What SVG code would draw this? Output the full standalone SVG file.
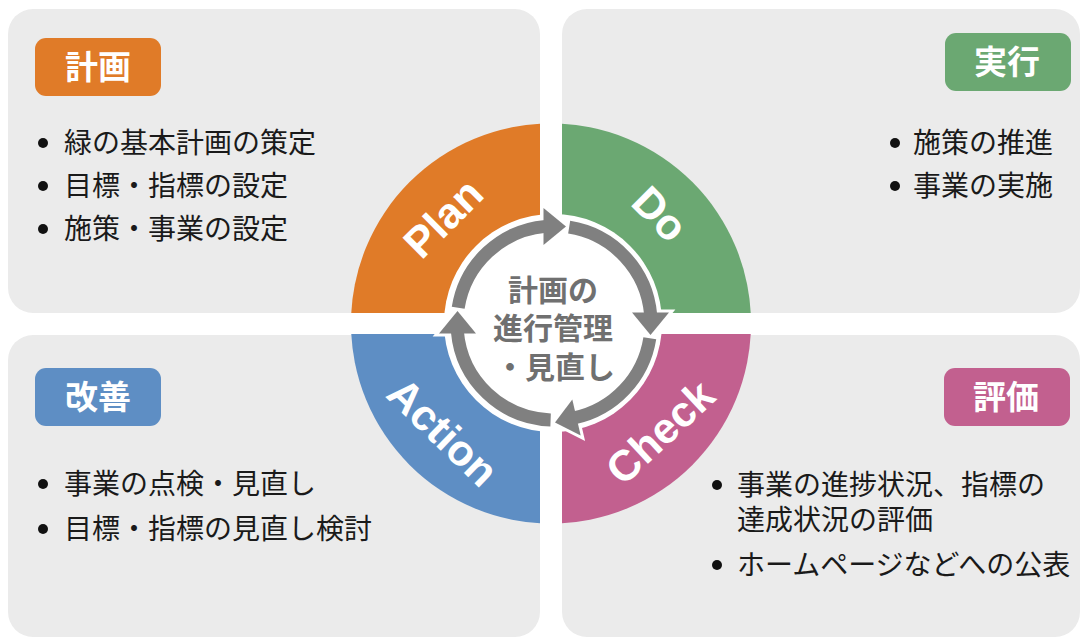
<svg xmlns="http://www.w3.org/2000/svg" width="1083" height="639" viewBox="0 0 1083 639">
<style>
.panel{fill:#EBEBEB}
.item{font-family:"Noto Sans CJK JP","Noto Sans",sans-serif;font-size:28px;fill:#1a1a1a}
.tag{font-family:"Noto Sans CJK JP","Noto Sans",sans-serif;font-size:33px;font-weight:700;fill:#ffffff;text-anchor:middle}
.pdca{font-family:"Liberation Sans",Arial,sans-serif;font-size:43px;font-weight:700;fill:#ffffff;text-anchor:middle;dominant-baseline:central}
.center{font-family:"Noto Sans CJK JP","Noto Sans",sans-serif;font-size:30px;font-weight:700;fill:#707070;text-anchor:middle}
.dot{fill:#111111}
.ring{fill:none;stroke:#808080;stroke-width:13}
.head{fill:#808080;stroke:#ffffff;stroke-width:6;paint-order:stroke;stroke-linejoin:miter}
</style>
<defs>
<clipPath id="cTL"><rect x="0" y="0" width="540" height="313"/></clipPath>
<clipPath id="cTR"><rect x="562" y="0" width="521" height="313"/></clipPath>
<clipPath id="cBL"><rect x="0" y="334" width="540" height="305"/></clipPath>
<clipPath id="cBR"><rect x="562" y="334" width="521" height="305"/></clipPath>
</defs>
<rect width="1083" height="639" fill="#ffffff"/>

<g id="panel-plan">
<rect class="panel" x="8" y="9" width="532" height="304" rx="25"/>
</g>
<g id="panel-do">
<rect class="panel" x="562" y="9" width="518" height="304" rx="25"/>
</g>
<g id="panel-action">
<rect class="panel" x="8" y="335" width="532" height="302" rx="25"/>
</g>
<g id="panel-check">
<rect class="panel" x="562" y="335" width="518" height="302" rx="25"/>
</g>

<g id="wheel">
<circle cx="551" cy="323.5" r="200" fill="#E07B28" clip-path="url(#cTL)"/>
<circle cx="551" cy="323.5" r="200" fill="#6BA872" clip-path="url(#cTR)"/>
<circle cx="551" cy="323.5" r="200" fill="#5E8EC4" clip-path="url(#cBL)"/>
<circle cx="551" cy="323.5" r="200" fill="#C2608F" clip-path="url(#cBR)"/>
<circle cx="553" cy="323" r="109" fill="#ffffff"/>
<text class="pdca" transform="translate(443,218) rotate(-45)">Plan</text>
<text class="pdca" transform="translate(660,214) rotate(45)">Do</text>
<text class="pdca" transform="translate(660,432) rotate(-43)">Check</text>
<text class="pdca" transform="translate(443,432) rotate(44)">Action</text>
</g>

<g id="connectors">
<path class="head" d="M543.5,208 L566,226.5 L543.5,245 Z"/>
<path class="head" d="M669,312.5 L650.5,335 L632,312.5 Z"/>
<path class="head" d="M572.3,399.5 L555,422.5 L580.7,435.5 Z"/>
<path class="head" d="M439,333.5 L457.5,311 L476,333.5 Z"/>
<path class="ring" d="M569.17,227.19 A97,97 0 0 1 650.63,314.55"/>
<path class="ring" d="M649.81,338.17 A97,97 0 0 1 574.17,417.88"/>
<path class="ring" d="M550.61,419.94 A97,97 0 0 1 457.37,331.45"/>
<path class="ring" d="M458.19,307.83 A97,97 0 0 1 545.55,226.37"/>
</g>

<g id="center-label">
<text class="center" x="553" y="301">計画の</text>
<text class="center" x="553" y="339">進行管理</text>
<text class="center" x="555" y="378">・見直し</text>
</g>

<g id="node-plan">
<rect x="35" y="38" width="126" height="58" rx="11" fill="#E07B28"/>
<text class="tag" x="98" y="79">計画</text>
<circle class="dot" cx="43" cy="143" r="5"/>
<text class="item" x="64" y="153">緑の基本計画の策定</text>
<circle class="dot" cx="43" cy="186" r="5"/>
<text class="item" x="64" y="196">目標・指標の設定</text>
<circle class="dot" cx="43" cy="229" r="5"/>
<text class="item" x="64" y="239">施策・事業の設定</text>
</g>

<g id="node-do">
<rect x="945" y="33" width="126" height="58" rx="11" fill="#6BA872"/>
<text class="tag" x="1007" y="74">実行</text>
<circle class="dot" cx="895" cy="143" r="5"/>
<text class="item" x="913" y="153">施策の推進</text>
<circle class="dot" cx="895" cy="186" r="5"/>
<text class="item" x="913" y="196">事業の実施</text>
</g>

<g id="node-action">
<rect x="35" y="368" width="126" height="58" rx="11" fill="#5E8EC4"/>
<text class="tag" x="98" y="409">改善</text>
<circle class="dot" cx="43" cy="484" r="5"/>
<text class="item" x="64" y="494">事業の点検・見直し</text>
<circle class="dot" cx="43" cy="529" r="5"/>
<text class="item" x="64" y="539">目標・指標の見直し検討</text>
</g>

<g id="node-check">
<rect x="944" y="368" width="126" height="58" rx="11" fill="#C2608F"/>
<text class="tag" x="1006" y="409">評価</text>
<circle class="dot" cx="717" cy="485" r="5"/>
<text class="item" x="737" y="495">事業の進捗状況、指標の<tspan x="737" y="530">達成状況の評価</tspan></text>
<circle class="dot" cx="717" cy="565" r="5"/>
<text class="item" x="737" y="575">ホームページなどへの公表</text>
</g>
</svg>
